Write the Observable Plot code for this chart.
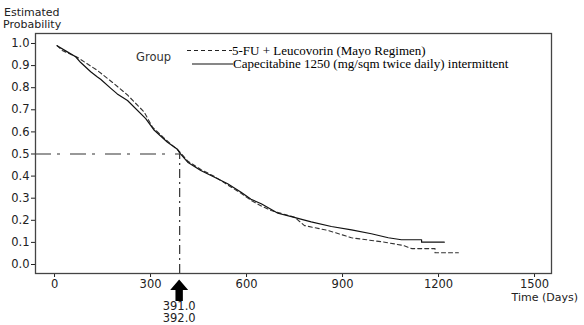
<!DOCTYPE html>
<html>
<head>
<meta charset="utf-8">
<script src="https://cdn.jsdelivr.net/npm/d3@7"></script>
<script src="https://cdn.jsdelivr.net/npm/@observablehq/plot@0.6"></script>
<style>
  html, body { margin: 0; padding: 0; background: #fff; }
</style>
</head>
<body>
<div id="chart"></div>
<script>
// Capecitabine 1250 (solid)
const capDays = [8, 40, 66, 81, 113, 134, 144, 175, 196, 228, 285, 310, 353, 384, 391, 416, 457, 500, 541, 583, 614, 646, 698, 740, 802, 865, 928, 990, 1043, 1084, 1147, 1147, 1218];
const capSurv = [0.99, 0.962, 0.94, 0.915, 0.872, 0.848, 0.838, 0.798, 0.772, 0.742, 0.66, 0.61, 0.553, 0.522, 0.505, 0.463, 0.425, 0.395, 0.365, 0.327, 0.295, 0.275, 0.232, 0.217, 0.193, 0.172, 0.157, 0.139, 0.121, 0.112, 0.112, 0.101, 0.101];
// 5-FU + Leucovorin (dashed)
const fuDays = [8, 24, 40, 71, 100, 134, 186, 228, 280, 306, 340, 391, 416, 457, 500, 541, 583, 614, 646, 677, 750, 781, 855, 928, 1032, 1090, 1116, 1189, 1189, 1262];
const fuSurv = [0.99, 0.968, 0.958, 0.938, 0.91, 0.878, 0.818, 0.767, 0.69, 0.622, 0.575, 0.51, 0.468, 0.43, 0.398, 0.36, 0.322, 0.29, 0.265, 0.244, 0.214, 0.176, 0.154, 0.121, 0.101, 0.086, 0.072, 0.072, 0.053, 0.053];

const seriesNames = ["5-FU + Leucovorin (Mayo Regimen)", "Capecitabine 1250 (mg/sqm twice daily) intermittent"];
const xTicks = [0, 300, 600, 900, 1200, 1500];
const yTicks = [0, 0.1, 0.2, 0.3, 0.4, 0.5, 0.6, 0.7, 0.8, 0.9, 1.0];
const medianDay = 391;
const medianProb = 0.5;
const medianLabels = ["391.0", "392.0"];
const xDomain = [-59.5, 1553];
const yDomain = [-0.0407, 1.0452];

const cap = capDays.map((d, i) => ({day: d, p: capSurv[i]}));
const fu = fuDays.map((d, i) => ({day: d, p: fuSurv[i]}));

const dashDot = "16,6,3,10";
const plot = Plot.plot({
  width: 584,
  height: 325,
  marginLeft: 35,
  marginRight: 33,
  marginTop: 33,
  marginBottom: 52,
  style: {fontFamily: "DejaVu Sans", fontSize: "11.5px", color: "#222", background: "#fff"},
  x: {domain: xDomain},
  y: {domain: yDomain},
  marks: [
    Plot.axisY({ticks: yTicks, tickFormat: d3.format(".1f"), tickSize: 4, tickPadding: 2, label: null}),
    Plot.axisX({ticks: xTicks, tickFormat: d3.format("d"), tickSize: 4, tickPadding: 2, label: null}),
    Plot.ruleY([medianProb], {x1: xDomain[0], x2: medianDay, stroke: "#333", strokeWidth: 1.2, strokeDasharray: dashDot}),
    Plot.ruleX([medianDay], {y1: yDomain[0], y2: medianProb, stroke: "#333", strokeWidth: 1.2, strokeDasharray: "9,4,2,4"}),
    Plot.line(fu, {x: "day", y: "p", stroke: "#333", strokeWidth: 1.1, strokeDasharray: "4,3"}),
    Plot.line(cap, {x: "day", y: "p", stroke: "#111", strokeWidth: 1.2}),
    Plot.frame({stroke: "#444", strokeWidth: 1.3})
  ]
});
document.getElementById("chart").appendChild(plot);

const svg = d3.select(plot);
const xs = plot.scale("x");
const mx = xs.apply(medianDay);

function addText(x, y, t, opts = {}) {
  return svg.append("text")
    .attr("x", x).attr("y", y)
    .attr("text-anchor", opts.anchor || "start")
    .attr("font-family", opts.family || "DejaVu Sans")
    .attr("font-size", opts.size || 11)
    .attr("fill", opts.fill || "#222")
    .text(t);
}

// Axis titles
addText(4, 16, "Estimated");
addText(3, 28, "Probability");
addText(578, 301, "Time (Days)", {anchor: "end"});

// Median arrow and labels
const hw = 9, sw = 3.7;
svg.append("polygon")
  .attr("points", [[mx, 279.5], [mx + hw, 290], [mx + sw, 290], [mx + sw, 301], [mx - sw, 301], [mx - sw, 290], [mx - hw, 290]].map(p => p.join(",")).join(" "))
  .attr("fill", "#000");
medianLabels.forEach((t, i) => addText(mx, 309.5 + i * 12.5, t, {anchor: "middle", size: 11.5}));

// Legend
addText(136, 60.5, "Group", {size: 11.5, fill: "#333"});
svg.append("line").attr("x1", 187).attr("x2", 232).attr("y1", 50.5).attr("y2", 50.5).attr("stroke", "#222").attr("stroke-width", 1).attr("stroke-dasharray", "4,3");
svg.append("line").attr("x1", 192).attr("x2", 233).attr("y1", 64).attr("y2", 64).attr("stroke", "#111").attr("stroke-width", 1.2);
addText(232, 54.5, seriesNames[0], {family: "Liberation Serif", size: 13, fill: "#000"});
addText(233, 68, seriesNames[1], {family: "Liberation Serif", size: 13, fill: "#000"});
</script>
</body>
</html>
